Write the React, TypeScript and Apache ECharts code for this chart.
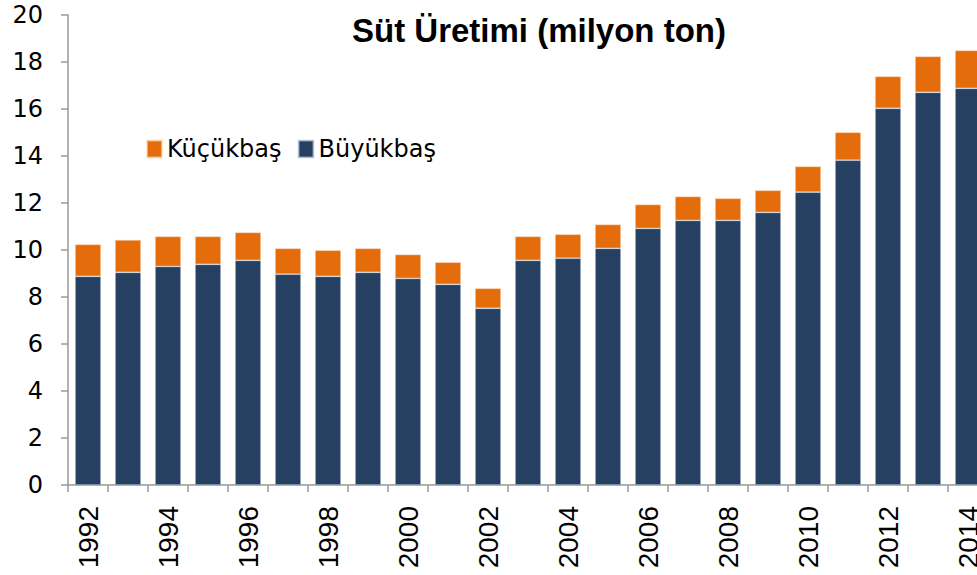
import React, { useEffect, useRef } from "react";
import * as echarts from "echarts";

const years = [
  "1992", "1993", "1994", "1995", "1996", "1997", "1998", "1999", "2000", "2001", "2002",
  "2003", "2004", "2005", "2006", "2007", "2008", "2009", "2010", "2011", "2012", "2013", "2014",
];
// Büyükbaş (cattle) milk, million tons
const buyukbas = [
  8.88, 9.05, 9.30, 9.39, 9.56, 8.97, 8.88, 9.05, 8.79, 8.54, 7.52,
  9.56, 9.65, 10.07, 10.92, 11.26, 11.26, 11.60, 12.46, 13.82, 16.03, 16.71, 16.88,
];
// Küçükbaş (sheep/goat) milk, million tons
const kucukbas = [
  1.36, 1.38, 1.28, 1.19, 1.19, 1.10, 1.11, 1.02, 1.02, 0.94, 0.85,
  1.02, 1.02, 1.02, 1.02, 1.02, 0.94, 0.94, 1.10, 1.19, 1.36, 1.53, 1.62,
];
const yTicks = { min: 0, max: 20, interval: 2 };

const NAVY = "#264061";
const ORANGE = "#E46C0A";

export default function App() {
  const ref = useRef<HTMLDivElement>(null);
  useEffect(() => {
    if (!ref.current) return;
    const chart = echarts.init(ref.current, undefined, { renderer: "svg" });
    chart.setOption({
      animation: false,
      backgroundColor: "#ffffff",
      title: {
        text: "Süt Üretimi (milyon ton)",
        left: 534,
        top: 9,
        textAlign: "center",
        textStyle: {
          fontFamily: "Liberation Sans",
          fontWeight: "bold",
          fontSize: 33,
          color: "#000",
        },
      },
      legend: {
        data: ["Küçükbaş", "Büyükbaş"],
        left: 141,
        top: 132,
        itemWidth: 15,
        itemHeight: 17,
        itemGap: 16,
        icon: "rect",
        textStyle: { fontFamily: "DejaVu Sans", fontSize: 24, color: "#000" },
      },
      grid: {
        left: 68,
        top: 15,
        width: 920,
        height: 470,
        containLabel: false,
        outerBoundsMode: "none",
      },
      xAxis: {
        type: "category",
        data: years,
        boundaryGap: true,
        axisLine: { lineStyle: { color: "#999", width: 1.5 } },
        axisTick: { show: true, interval: 0, length: 7, lineStyle: { color: "#999", width: 1.5 } },
        axisLabel: {
          interval: 1,
          rotate: 90,
          margin: 21,
          fontFamily: "Liberation Sans",
          fontSize: 28,
          color: "#000",
        },
      },
      yAxis: {
        type: "value",
        min: yTicks.min,
        max: yTicks.max,
        interval: yTicks.interval,
        splitLine: { show: false },
        axisLine: { show: true, lineStyle: { color: "#999", width: 1.5 } },
        axisTick: { show: true, length: 7, lineStyle: { color: "#999", width: 1.5 } },
        axisLabel: {
          margin: 25,
          fontFamily: "DejaVu Sans",
          fontSize: 24,
          color: "#000",
        },
      },
      series: [
        {
          name: "Büyükbaş",
          type: "bar",
          stack: "total",
          data: buyukbas,
          barWidth: "65%",
          itemStyle: { color: NAVY, borderColor: "rgba(200,210,225,0.6)", borderWidth: 0.75 },
        },
        {
          name: "Küçükbaş",
          type: "bar",
          stack: "total",
          data: kucukbas,
          barWidth: "65%",
          itemStyle: { color: ORANGE, borderColor: "rgba(255,220,190,0.6)", borderWidth: 0.75 },
        },
      ],
    });
    return () => chart.dispose();
  }, []);
  return (
    <div
      ref={ref}
      style={{ position: "fixed", left: 0, top: 0, width: 977, height: 575 }}
    />
  );
}
